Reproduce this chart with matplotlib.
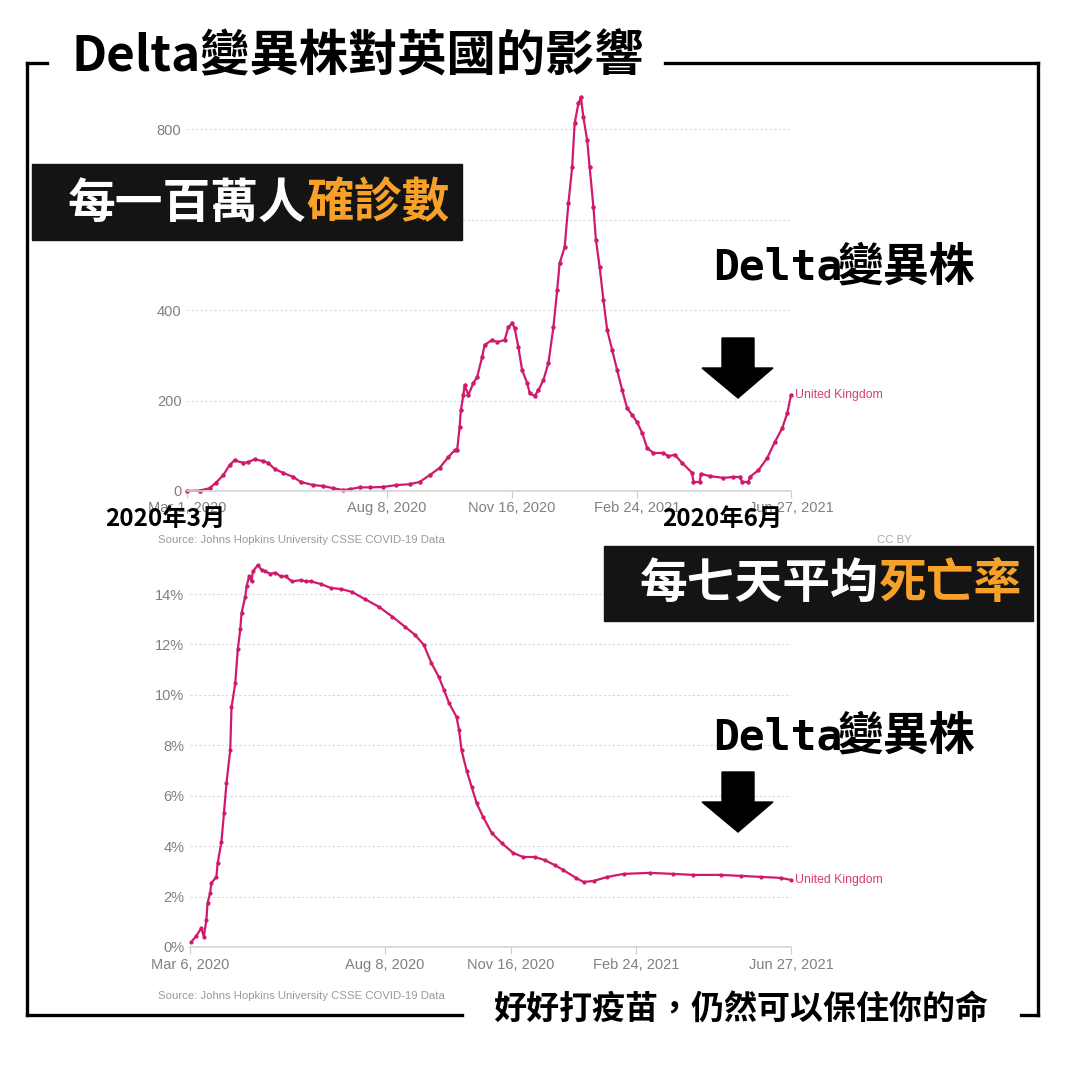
import pandas as pd
import matplotlib
matplotlib.use('Agg')
import matplotlib.pyplot as plt
from matplotlib.patches import Rectangle, Polygon
from matplotlib.lines import Line2D

plt.rcParams['font.family'] = ['Noto Sans CJK TC', 'DejaVu Sans']

# 每一百萬人確診數 (7-day avg cases per million)
case_dates = ['2020-03-01', '2020-03-11', '2020-03-19', '2020-03-24', '2020-03-30', '2020-04-04',
              '2020-04-08', '2020-04-15', '2020-04-19', '2020-04-24', '2020-05-01', '2020-05-05',
              '2020-05-10', '2020-05-17', '2020-05-25', '2020-05-31', '2020-06-10', '2020-06-18',
              '2020-06-26', '2020-07-04', '2020-07-09', '2020-07-17', '2020-07-25', '2020-08-05',
              '2020-08-15', '2020-08-26', '2020-09-03', '2020-09-11', '2020-09-19', '2020-09-26',
              '2020-10-01', '2020-10-03', '2020-10-05', '2020-10-06', '2020-10-08', '2020-10-09',
              '2020-10-12', '2020-10-16', '2020-10-19', '2020-10-23', '2020-10-25', '2020-10-31',
              '2020-11-04', '2020-11-10', '2020-11-13', '2020-11-16', '2020-11-18', '2020-11-21',
              '2020-11-24', '2020-11-28', '2020-11-30', '2020-12-04', '2020-12-07', '2020-12-11',
              '2020-12-15', '2020-12-19', '2020-12-22', '2020-12-24', '2020-12-28', '2020-12-31',
              '2021-01-03', '2021-01-05', '2021-01-08', '2021-01-10', '2021-01-12', '2021-01-15',
              '2021-01-17', '2021-01-20', '2021-01-22', '2021-01-25', '2021-01-28', '2021-01-31',
              '2021-02-04', '2021-02-08', '2021-02-12', '2021-02-16', '2021-02-20', '2021-02-24',
              '2021-02-28', '2021-03-04', '2021-03-09', '2021-03-17', '2021-03-21', '2021-03-26',
              '2021-04-01', '2021-04-09', '2021-04-10', '2021-04-15', '2021-04-16', '2021-04-23',
              '2021-05-04', '2021-05-12', '2021-05-17', '2021-05-19', '2021-05-24', '2021-05-25',
              '2021-06-01', '2021-06-08', '2021-06-14', '2021-06-20', '2021-06-24', '2021-06-27']
case_values = [0, 1, 6, 18, 35, 57,
               68, 62, 64, 70, 66, 62,
               49, 40, 31, 20, 13, 11,
               6, 2, 4, 8, 8, 9,
               13, 15, 20, 35, 51, 75,
               90, 90, 141, 179, 212, 234,
               212, 239, 252, 296, 323, 334,
               329, 334, 362, 371, 360, 318,
               267, 239, 217, 210, 223, 245,
               283, 362, 444, 504, 539, 636,
               716, 813, 857, 871, 826, 776,
               716, 628, 555, 495, 422, 356,
               312, 267, 223, 183, 168, 152,
               128, 95, 84, 84, 77, 80,
               62, 40, 20, 20, 38, 33,
               29, 31, 31, 20, 20, 31,
               46, 73, 108, 139, 172, 212]

# 每七天平均死亡率 (case fatality rate, %)
death_dates = ['2020-03-07', '2020-03-11', '2020-03-15', '2020-03-17', '2020-03-19', '2020-03-20',
               '2020-03-22', '2020-03-23', '2020-03-27', '2020-03-28', '2020-03-31', '2020-04-02',
               '2020-04-04', '2020-04-07', '2020-04-08', '2020-04-11', '2020-04-13', '2020-04-15',
               '2020-04-16', '2020-04-19', '2020-04-20', '2020-04-22', '2020-04-24', '2020-04-25',
               '2020-04-29', '2020-05-02', '2020-05-05', '2020-05-09', '2020-05-13', '2020-05-17',
               '2020-05-21', '2020-05-26', '2020-06-02', '2020-06-06', '2020-06-10', '2020-06-18',
               '2020-06-26', '2020-07-04', '2020-07-13', '2020-07-23', '2020-08-03', '2020-08-14',
               '2020-08-24', '2020-09-01', '2020-09-08', '2020-09-14', '2020-09-20', '2020-09-24',
               '2020-09-28', '2020-10-04', '2020-10-06', '2020-10-08', '2020-10-12', '2020-10-16',
               '2020-10-20', '2020-10-25', '2020-11-01', '2020-11-09', '2020-11-18', '2020-11-26',
               '2020-12-05', '2020-12-13', '2020-12-21', '2020-12-28', '2021-01-07', '2021-01-13',
               '2021-01-21', '2021-02-01', '2021-02-14', '2021-03-07', '2021-03-25', '2021-04-10',
               '2021-05-02', '2021-05-18', '2021-06-03', '2021-06-19', '2021-06-27']
death_values = [0.2, 0.44, 0.75, 0.4, 1.07, 1.75,
                2.14, 2.54, 2.78, 3.33, 4.17, 5.3,
                6.5, 7.8, 9.5, 10.46, 11.8, 12.6,
                13.25, 13.9, 14.3, 14.7, 14.5, 14.9,
                15.15, 14.95, 14.9, 14.8, 14.85, 14.7,
                14.7, 14.5, 14.55, 14.5, 14.5, 14.4,
                14.24, 14.2, 14.08, 13.8, 13.5, 13.1,
                12.7, 12.38, 11.98, 11.26, 10.7, 10.2,
                9.68, 9.12, 8.6, 7.8, 7.0, 6.35,
                5.7, 5.17, 4.52, 4.12, 3.73, 3.57,
                3.57, 3.45, 3.25, 3.05, 2.74, 2.58,
                2.62, 2.78, 2.9, 2.94, 2.9, 2.86,
                2.86, 2.82, 2.78, 2.74, 2.66]

top_ticks = ['2020-03-01', '2020-08-08', '2020-11-16', '2021-02-24', '2021-06-27']
top_tick_labels = ['Mar 1, 2020', 'Aug 8, 2020', 'Nov 16, 2020', 'Feb 24, 2021', 'Jun 27, 2021']
bot_ticks = ['2020-03-06', '2020-08-08', '2020-11-16', '2021-02-24', '2021-06-27']
bot_tick_labels = ['Mar 6, 2020', 'Aug 8, 2020', 'Nov 16, 2020', 'Feb 24, 2021', 'Jun 27, 2021']

W = H = 1066
LINE = '#cf1a6b'
GREY = '#808080'
ORANGE = '#f7a12b'


def fx(x):
    return x / W


def fy(y):
    return 1 - y / H


fig = plt.figure(figsize=(10.66, 10.66), dpi=100)
fig.patch.set_facecolor('white')


def style_axes(ax, ticks, labels, pad):
    for s in ['top', 'right', 'left']:
        ax.spines[s].set_visible(False)
    ax.spines['bottom'].set_color('#d4d4d4')
    ax.spines['bottom'].set_linewidth(1.2)
    ax.grid(axis='y', linestyle=(0, (2, 2)), color='#d8d8d8', linewidth=0.8)
    ax.set_axisbelow(True)
    ax.set_xticks(pd.to_datetime(ticks))
    ax.set_xticklabels(labels, color=GREY, fontsize=10.5, family=['Liberation Sans'])
    ax.tick_params(axis='x', length=5, color='#cccccc', pad=pad)
    ax.tick_params(axis='y', length=0, pad=4, labelcolor=GREY, labelsize=10.5)
    for lab in ax.get_yticklabels():
        lab.set_family(['Liberation Sans'])


# top chart: cases per million
ax1 = fig.add_axes([fx(187), fy(491), 604 / W, 398 / H])
d1 = pd.to_datetime(case_dates)
ax1.plot(d1, case_values, color=LINE, lw=1.6, marker='o', ms=2.2, clip_on=False)
ax1.set_xlim(pd.Timestamp('2020-03-01'), pd.Timestamp('2021-06-27'))
ax1.set_ylim(0, 880)
ax1.set_yticks([0, 200, 400, 600, 800])
ax1.set_yticklabels(['0', '200', '400', '', '800'])  # 600 sits under the black box
style_axes(ax1, top_ticks, top_tick_labels, 2)
ax1.annotate('United Kingdom', (d1[-1], case_values[-1]), xytext=(3, 0), textcoords='offset points',
             color='#d63a7c', fontsize=8.8, va='center', family=['Liberation Sans'], annotation_clip=False)

# bottom chart: fatality rate
ax2 = fig.add_axes([fx(190), fy(947), 601 / W, 390.8 / H])
d2 = pd.to_datetime(death_dates)
ax2.plot(d2, death_values, color=LINE, lw=1.6, marker='o', ms=2.0, clip_on=False)
ax2.set_xlim(pd.Timestamp('2020-03-06'), pd.Timestamp('2021-06-27'))
ax2.set_ylim(0, 15.5)
ax2.set_yticks([0, 2, 4, 6, 8, 10, 12, 14])
ax2.set_yticklabels([f'{v}%' for v in [0, 2, 4, 6, 8, 10, 12, 14]])
style_axes(ax2, bot_ticks, bot_tick_labels, 3)
ax2.annotate('United Kingdom', (d2[-1], death_values[-1]), xytext=(3, 0), textcoords='offset points',
             color='#d63a7c', fontsize=8.8, va='center', family=['Liberation Sans'], annotation_clip=False)

# source notes
src = 'Source: Johns Hopkins University CSSE COVID-19 Data'
fig.text(fx(158), fy(540), src, fontsize=8.2, color='#9a9a9a', va='center', family=['Liberation Sans'])
fig.text(fx(158), fy(996), src, fontsize=8.2, color='#9a9a9a', va='center', family=['Liberation Sans'])
fig.text(fx(894), fy(540), 'CC BY', fontsize=8.2, color='#aaaaaa', va='center', ha='center',
         family=['Liberation Sans'])


# frame
def seg(x0, y0, x1, y1):
    fig.add_artist(Line2D([fx(x0), fx(x1)], [fy(y0), fy(y1)], color='black', lw=2.4,
                          solid_capstyle='projecting'))


seg(27, 63, 47, 63)
seg(665, 63, 1038, 63)
seg(27, 63, 27, 1015)
seg(1038, 63, 1038, 1015)
seg(27, 1015, 462, 1015)
seg(1021, 1015, 1038, 1015)

fig.text(fx(72), fy(57), 'Delta變異株對英國的影響', fontsize=35.5, fontweight='bold',
         va='center', ha='left', color='black')

# black label boxes
fig.add_artist(Rectangle((fx(32), fy(240)), 430 / W, 76 / H, transform=fig.transFigure,
                         color='#141414', zorder=2))
fig.text(fx(68), fy(203), '每一百萬人', fontsize=34.4, fontweight='bold', color='white',
         va='center', ha='left', zorder=3)
fig.text(fx(68 + 5 * 47.75), fy(203), '確診數', fontsize=34.4, fontweight='bold', color=ORANGE,
         va='center', ha='left', zorder=3)

fig.add_artist(Rectangle((fx(604), fy(621)), 429 / W, 75 / H, transform=fig.transFigure,
                         color='#141414', zorder=2))
fig.text(fx(640), fy(583), '每七天平均', fontsize=34.4, fontweight='bold', color='white',
         va='center', ha='left', zorder=3)
fig.text(fx(640 + 5 * 47.75), fy(583), '死亡率', fontsize=34.4, fontweight='bold', color=ORANGE,
         va='center', ha='left', zorder=3)

# Delta labels and arrows
for yc, ytop in [(268, 338), (737, 772)]:
    fig.text(fx(713), fy(yc), 'Delta', fontsize=31, fontweight='bold', color='black',
             va='center', ha='left', family=['DejaVu Sans Mono'])
    fig.text(fx(838), fy(yc), '變異株', fontsize=33, fontweight='bold', color='black',
             va='center', ha='left')
    pts = [(722, ytop), (754, ytop), (754, ytop + 30), (773, ytop + 30), (738, ytop + 60),
           (702, ytop + 30), (722, ytop + 30)]
    fig.add_artist(Polygon([(fx(x), fy(y)) for x, y in pts], closed=True, transform=fig.transFigure,
                           color='black', zorder=2))

fig.text(fx(105), fy(519), '2020年3月', fontsize=17.5, fontweight='bold', color='black',
         va='center', ha='left', zorder=3)
fig.text(fx(662), fy(519), '2020年6月', fontsize=17.5, fontweight='bold', color='black',
         va='center', ha='left', zorder=3)

fig.text(fx(493), fy(1010), '好好打疫苗，仍然可以保住你的命', fontsize=23.8, fontweight='bold',
         color='black', va='center', ha='left')

fig.savefig('out.png', dpi=100)
